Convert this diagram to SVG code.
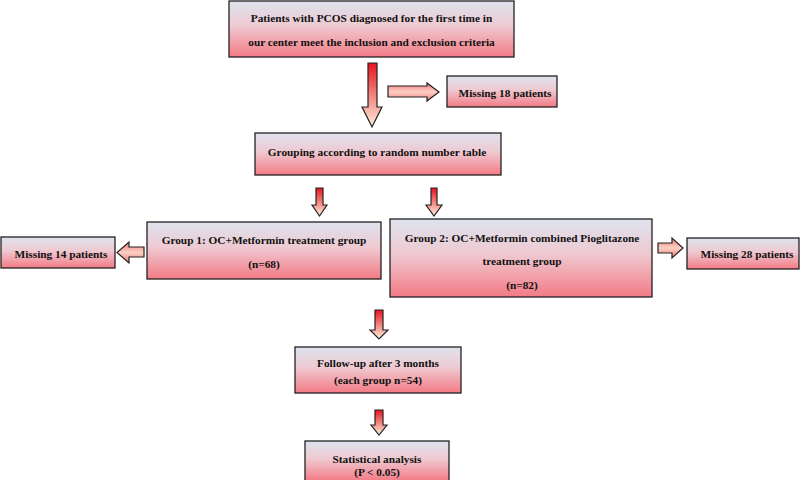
<svg xmlns="http://www.w3.org/2000/svg" width="800" height="480" viewBox="0 0 800 480">
<defs>
<linearGradient id="boxg" x1="0" y1="0" x2="0" y2="1">
<stop offset="0" stop-color="#dde3ee"/>
<stop offset="0.45" stop-color="#efc9d1"/>
<stop offset="1" stop-color="#f37a85"/>
</linearGradient>
<linearGradient id="varr" x1="0" y1="0" x2="0" y2="1">
<stop offset="0" stop-color="#e8141e"/>
<stop offset="1" stop-color="#fdf0dc"/>
</linearGradient>
<linearGradient id="harr" x1="0" y1="0" x2="0" y2="1">
<stop offset="0" stop-color="#ef7b78"/>
<stop offset="0.5" stop-color="#fbcfc4"/>
<stop offset="1" stop-color="#ee7c78"/>
</linearGradient>
</defs>
<style>
.box{fill:url(#boxg);stroke:#222;stroke-width:1.3}
.va{fill:url(#varr);stroke:#222;stroke-width:1.2;stroke-linejoin:miter}
.ha{fill:url(#harr);stroke:#222;stroke-width:1.2}
text{font-family:"Liberation Serif","Times New Roman",serif;font-weight:bold;font-size:11.3px;fill:#111;text-anchor:middle}
</style>
<rect width="800" height="480" fill="#fff"/>
<g id="connectors">
<path class="va" d="M368,63 H377 V107 H382 L372,127 L362,107 H368 Z"/>
<path class="ha" d="M388,86 H427 V83 L439,92 L427,101 V97 H388 Z"/>
<path class="va" d="M316,188 H323 V205 H327 L319.5,216 L312,205 H316 Z"/>
<path class="va" d="M431,188 H437 V205 H442 L434,216 L426,205 H431 Z"/>
<path class="ha" d="M144,247 H129 V242 L117,252.5 L129,263 V257 H144 Z"/>
<path class="ha" d="M658,243 H672 V238 L683,248 L672,258 V253 H658 Z"/>
<path class="va" d="M375,310 H383 V330 H388 L379,339 L370,330 H375 Z"/>
<path class="va" d="M375,410 H383 V425 H387 L379,435 L371,425 H375 Z"/>
</g>
<g id="n-start">
<rect class="box" x="229" y="1" width="285" height="56"/>
<text x="371.5" y="22">Patients with PCOS diagnosed for the first time in</text>
<text x="371.5" y="46">our center meet the inclusion and exclusion criteria</text>
</g>
<g id="n-missing18">
<rect class="box" x="447" y="76" width="110" height="31"/>
<text x="505" y="97">Missing 18 patients</text>
</g>
<g id="n-grouping">
<rect class="box" x="255" y="133" width="246" height="42"/>
<text x="377" y="156">Grouping according to random number table</text>
</g>
<g id="n-group1">
<rect class="box" x="147" y="222" width="234" height="57"/>
<text x="264" y="244">Group 1: OC+Metformin treatment group</text>
<text x="264" y="268">(n=68)</text>
</g>
<g id="n-missing14">
<rect class="box" x="1" y="237" width="114" height="31"/>
<text x="61" y="258">Missing 14 patients</text>
</g>
<g id="n-group2">
<rect class="box" x="390" y="219" width="262" height="78"/>
<text x="522" y="242">Group 2: OC+Metformin combined Pioglitazone</text>
<text x="522" y="265">treatment group</text>
<text x="522" y="289">(n=82)</text>
</g>
<g id="n-missing28">
<rect class="box" x="687" y="238" width="112" height="31"/>
<text x="747" y="258">Missing 28 patients</text>
</g>
<g id="n-followup">
<rect class="box" x="295" y="347" width="166" height="46"/>
<text x="378" y="367">Follow-up after 3 months</text>
<text x="378" y="384">(each group n=54)</text>
</g>
<g id="n-stats">
<rect class="box" x="305" y="441" width="144" height="40"/>
<text x="377" y="463">Statistical analysis</text>
<text x="377" y="476">(P &lt; 0.05)</text>
</g>
</svg>
